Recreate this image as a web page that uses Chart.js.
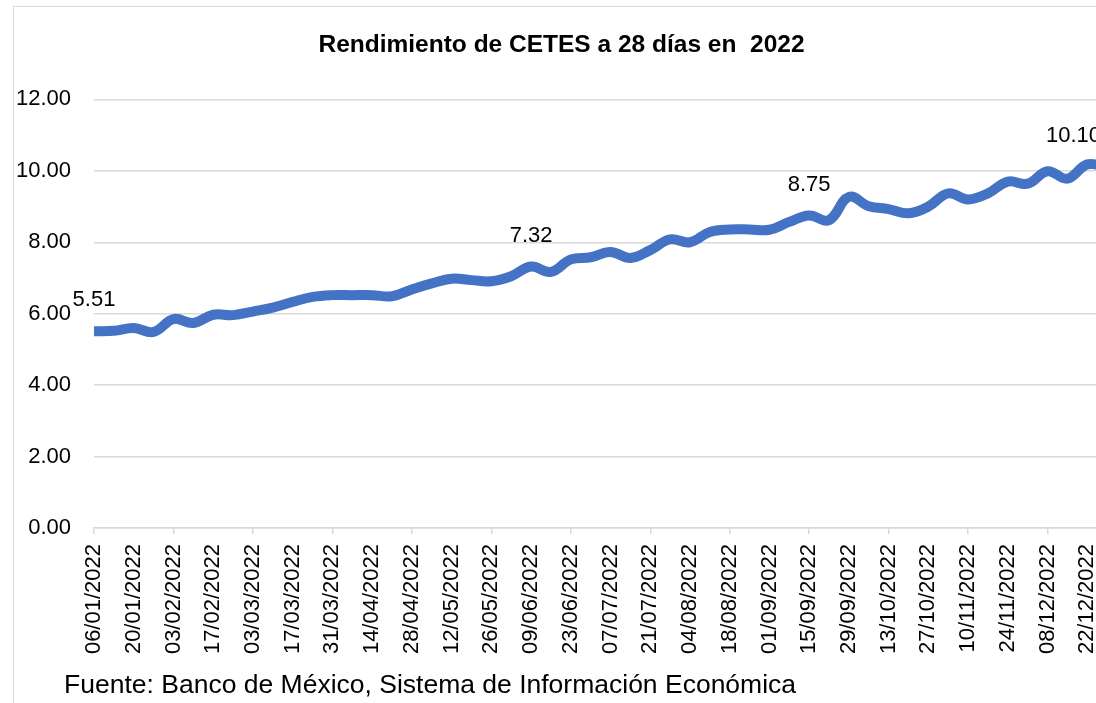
<!DOCTYPE html>
<html>
<head>
<meta charset="utf-8">
<script src="https://cdn.jsdelivr.net/npm/chart.js@4.4.1/dist/chart.umd.min.js"></script>
<style>
  body { margin: 0; background: #fff; overflow: hidden; }
  #frame { position: absolute; left: 13px; top: 6px; width: 1200px; height: 800px; border: 1px solid #d9d9d9; }
  #c { position: absolute; left: 0; top: 0; }
</style>
</head>
<body>
<div id="frame"><canvas id="c" width="1110" height="696"></canvas></div>
<script>
// Semanas de 2022 (fecha de la subasta)
const weeks = [
    '06/01/2022', '13/01/2022', '20/01/2022', '27/01/2022', '03/02/2022', '10/02/2022',
    '17/02/2022', '24/02/2022', '03/03/2022', '10/03/2022', '17/03/2022', '24/03/2022',
    '31/03/2022', '07/04/2022', '14/04/2022', '21/04/2022', '28/04/2022', '05/05/2022',
    '12/05/2022', '19/05/2022', '26/05/2022', '02/06/2022', '09/06/2022', '16/06/2022',
    '23/06/2022', '30/06/2022', '07/07/2022', '14/07/2022', '21/07/2022', '28/07/2022',
    '04/08/2022', '11/08/2022', '18/08/2022', '25/08/2022', '01/09/2022', '08/09/2022',
    '15/09/2022', '22/09/2022', '29/09/2022', '06/10/2022', '13/10/2022', '20/10/2022',
    '27/10/2022', '03/11/2022', '10/11/2022', '17/11/2022', '24/11/2022', '01/12/2022',
    '08/12/2022', '15/12/2022', '22/12/2022', '29/12/2022'
];

// Rendimiento CETES 28 días (%)
const rates = [
    5.51, 5.52, 5.60, 5.49, 5.85, 5.74,
    5.97, 5.96, 6.06, 6.17, 6.33, 6.47,
    6.52, 6.52, 6.52, 6.49, 6.68, 6.85,
    6.98, 6.94, 6.91, 7.05, 7.32, 7.17,
    7.52, 7.58, 7.73, 7.56, 7.78, 8.08,
    8.00, 8.29, 8.36, 8.36, 8.35, 8.57,
    8.75, 8.62, 9.27, 9.01, 8.93, 8.81,
    9.00, 9.37, 9.20, 9.37, 9.70, 9.64,
    9.99, 9.78, 10.18, 10.10
];

// puntos con etiqueta de dato
const labeledPoints = [0, 22, 36, 51];

const yTicks = [0, 2, 4, 6, 8, 10, 12];

const chartTitle = 'Rendimiento de CETES a 28 días en  2022';
const sourceNote = 'Fuente: Banco de México, Sistema de Información Económica';

const FONT = '"Liberation Sans", Arial, sans-serif';

const valueLabels = {
    id: 'valueLabels',
    afterDatasetsDraw(chart) {
        const ctx = chart.ctx;
        const meta = chart.getDatasetMeta(0);
        ctx.save();
        ctx.font = '22px ' + FONT;
        ctx.fillStyle = '#000';
        ctx.textAlign = 'center';
        ctx.textBaseline = 'middle';
        labeledPoints.forEach(i => {
            const pt = meta.data[i];
            const text = rates[i].toFixed(2);
            const w = ctx.measureText(text).width;
            // como en Excel, la etiqueta se queda dentro del área del gráfico
            const x = Math.min(pt.x, chart.width - 23 - w / 2);
            ctx.fillText(text, x, pt.y - 31);
        });
        ctx.restore();
    }
};

const sourceText = {
    id: 'sourceText',
    afterDraw(chart) {
        const ctx = chart.ctx;
        ctx.save();
        ctx.font = '26.5px ' + FONT;
        ctx.fillStyle = '#000';
        ctx.textAlign = 'left';
        ctx.textBaseline = 'alphabetic';
        ctx.fillText(sourceNote, 50, chart.height - 10);
        ctx.restore();
    }
};

const ctx = document.getElementById('c').getContext('2d');

window.cetesChart = new Chart(ctx, {
    type: 'line',
    data: {
        labels: weeks,
        datasets: [{
            data: rates,
            borderColor: '#4472C4',
            borderWidth: 10,
            borderJoinStyle: 'round',
            fill: false,
            tension: 0.4,
            pointRadius: 0
        }]
    },
    options: {
        responsive: false,
        animation: false,
        layout: {
            padding: { left: 0, right: 15, top: 0, bottom: 0 }
        },
        scales: {
            x: {
                offset: false,
                afterFit: (scale) => { scale.height = 175; },
                grid: {
                    drawOnChartArea: false,
                    drawTicks: true,
                    tickLength: 6,
                    lineWidth: 1.5,
                    color: (c) => (c.index % 2 === 0 ? '#d9d9d9' : 'rgba(0,0,0,0)')
                },
                border: { display: true, color: '#d9d9d9', width: 1.5 },
                ticks: {
                    autoSkip: false,
                    minRotation: 90,
                    maxRotation: 90,
                    padding: 10,
                    color: '#000',
                    font: { family: FONT, size: 22 },
                    callback: (value, index) => (index % 2 === 0 ? weeks[index] : null)
                }
            },
            y: {
                min: yTicks[0],
                max: yTicks[yTicks.length - 1],
                afterFit: (scale) => { scale.width = 80; },
                afterBuildTicks: (scale) => { scale.ticks = yTicks.map(v => ({ value: v })); },
                grid: {
                    color: '#d9d9d9',
                    lineWidth: 1.5,
                    drawTicks: false
                },
                border: { display: false },
                ticks: {
                    padding: 23,
                    color: '#000',
                    font: { family: FONT, size: 22 },
                    callback: (value) => Number(value).toFixed(2)
                }
            }
        },
        plugins: {
            legend: { display: false },
            tooltip: { enabled: false },
            title: {
                display: true,
                text: chartTitle,
                color: '#000',
                font: { family: FONT, size: 24.5, weight: 'bold', lineHeight: 1.2 },
                padding: { top: 23.5, bottom: 39.5 }
            }
        }
    },
    plugins: [valueLabels, sourceText]
});
</script>
</body>
</html>
